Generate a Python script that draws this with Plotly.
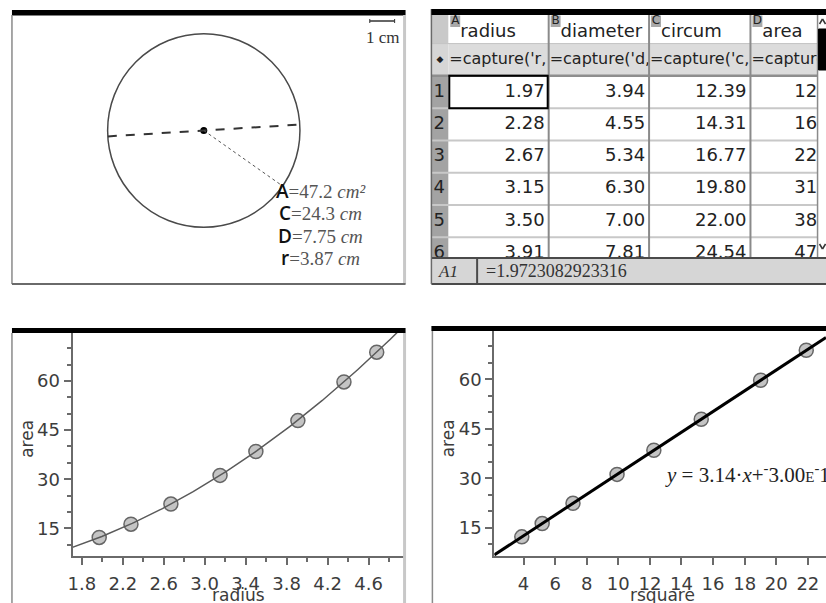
import numpy as np
import plotly.graph_objects as go

# ---------------- data ----------------
radius = [1.97, 2.28, 2.67, 3.15, 3.50, 3.91, 4.36, 4.68]
area = [12.22, 16.26, 22.40, 31.17, 38.48, 47.90, 59.72, 68.81]
rsquare = [3.89, 5.18, 7.13, 9.92, 12.25, 15.25, 19.01, 21.90]
diameter = [3.94, 4.55, 5.34, 6.30, 7.00, 7.81]
circum = [12.39, 14.31, 16.77, 19.80, 22.00, 24.54]
table_rows = [1, 2, 3, 4, 5, 6]
col_letters = ["A", "B", "C", "D"]
col_names = ["radius", "diameter", "circum", "area"]
col_formulas = ["=capture('r,", "=capture('d,", "=capture('c,", "=capture('a,"]
cell_ref = "A1"
cell_value = "=1.9723082923316"
meas_labels = ["A", "C", "D", "r"]
meas_values = ["47.2", "24.3", "7.75", "3.87"]
meas_units = ["cm²", "cm", "cm", "cm"]
circle_r_cm = 3.87
curve_k = 3.14159
fit_slope = 3.14
fit_intercept = -3.00e-14
eq_text = ("<i>y</i> = 3.14·<i>x</i>+<sup>-</sup>3.00"
           "<span style='font-size:15px'>E</span><sup>-</sup>14")

# ---------------- layout helpers ----------------
W, H = 826, 603


def fx(p):
    return p / W


def fy(p):
    return 1 - p / H


def rect_px(x0, y0, x1, y1, **kw):
    return dict(type="rect", xref="paper", yref="paper",
                x0=fx(x0), x1=fx(x1), y0=fy(y1), y1=fy(y0), **kw)


def line_px(x0, y0, x1, y1, color, width, layer="above", dash="solid"):
    return dict(type="line", xref="paper", yref="paper", x0=fx(x0), x1=fx(x1),
                y0=fy(y0), y1=fy(y1), layer=layer,
                line=dict(color=color, width=width, dash=dash))


fig = go.Figure()
shapes = []
annotations = []

AX_COL = "#6a6a6a"
TICKFONT = dict(family="DejaVu Sans", size=18, color="#3c3c3c")
MARK = dict(size=14, color="#c4c4c4", line=dict(color="#666666", width=1.5))

# ---------------- bottom-left: area vs radius ----------------
fig.add_trace(go.Scatter(x=radius, y=area, mode="markers", marker=MARK,
                         xaxis="x", yaxis="y", hoverinfo="skip"))
xr = np.linspace(1.70, 4.97, 200)
fig.add_trace(go.Scatter(x=xr, y=curve_k * xr ** 2, mode="lines",
                         line=dict(color="#5a5a5a", width=1.5),
                         xaxis="x", yaxis="y", hoverinfo="skip"))

# ---------------- bottom-right: area vs rsquare ----------------
fig.add_trace(go.Scatter(x=rsquare, y=area, mode="markers", marker=MARK,
                         xaxis="x2", yaxis="y2", hoverinfo="skip"))
X2_RANGE = [2.15, 23.15]
xl = np.array(X2_RANGE)
fig.add_trace(go.Scatter(x=xl, y=fit_slope * xl + fit_intercept, mode="lines",
                         line=dict(color="#000000", width=3),
                         xaxis="x2", yaxis="y2", hoverinfo="skip"))

# ---------------- top-left: geometry (cm units) ----------------
CX, CY, PPC = 200.0, 130.5, 25.0   # centre pixel, pixels per cm
G_L, G_R, G_T, G_B = 7, 402, 15, 284
fig.add_trace(go.Scatter(x=[0], y=[0], mode="markers",
                         marker=dict(size=7, color="black"),
                         xaxis="x3", yaxis="y3", hoverinfo="skip"))
shapes.append(dict(type="circle", xref="x3", yref="y3",
                   x0=-circle_r_cm, x1=circle_r_cm, y0=-circle_r_cm, y1=circle_r_cm,
                   line=dict(color="#4a4a4a", width=1.5)))
a_d = np.deg2rad(3.5)
shapes.append(dict(type="line", xref="x3", yref="y3",
                   x0=-circle_r_cm * np.cos(a_d), y0=-circle_r_cm * np.sin(a_d),
                   x1=circle_r_cm * np.cos(a_d), y1=circle_r_cm * np.sin(a_d),
                   line=dict(color="#333333", width=2, dash="dash")))
a_r = np.deg2rad(-35)
shapes.append(dict(type="line", xref="x3", yref="y3", x0=0, y0=0,
                   x1=circle_r_cm * np.cos(a_r), y1=circle_r_cm * np.sin(a_r),
                   line=dict(color="#555555", width=1, dash="dot")))
# scale bar: 1 cm
sb_x0 = (367 - CX) / PPC
sb_y = (CY - 21) / PPC
shapes.append(dict(type="line", xref="x3", yref="y3", x0=sb_x0, x1=sb_x0 + 1,
                   y0=sb_y, y1=sb_y, line=dict(color="#333", width=1.5)))
for xe in (sb_x0, sb_x0 + 1):
    shapes.append(dict(type="line", xref="x3", yref="y3", x0=xe, x1=xe,
                       y0=sb_y - 0.08, y1=sb_y + 0.08, line=dict(color="#333", width=1)))
annotations.append(dict(xref="paper", yref="paper", x=fx(380), y=fy(37),
                        text="1 cm", showarrow=False, xanchor="center", yanchor="middle",
                        font=dict(family="Liberation Serif", size=17, color="#333")))
for i, (lab, val, unit) in enumerate(zip(meas_labels, meas_values, meas_units)):
    annotations.append(dict(
        xref="paper", yref="paper", x=fx(317), y=fy(191 + i * 22.3),
        text=(f"<span style='font-family:Open Sans;font-weight:600;color:#111'>{lab}</span>"
              f"={val} <i>{unit}</i>"),
        showarrow=False, xanchor="center", yanchor="middle",
        font=dict(family="Liberation Serif", size=19, color="#555")))

# panel frames (top-left / bottom-left / bottom-right)
shapes += [
    rect_px(7, 10, 403, 15.5, fillcolor="black", line=dict(width=0), layer="above"),
    line_px(7, 15, 7, 284, "#8a8a8a", 1.5),
    line_px(402, 15, 402, 284, "#c8c8c8", 3),
    line_px(7, 284, 403, 284, "#6a6a6a", 2),
    rect_px(7, 328, 403, 333, fillcolor="black", line=dict(width=0), layer="above"),
    line_px(7, 333, 7, 603, "#8a8a8a", 1.5),
    line_px(402, 333, 402, 603, "#c8c8c8", 3),
    rect_px(429, 326, 826, 331, fillcolor="black", line=dict(width=0), layer="above"),
    line_px(430, 331, 430, 603, "#8a8a8a", 1.5),
]

# ---------------- top-right: spreadsheet ----------------
T_L, T_R, T_T, T_B = 429, 818, 15, 258
ROW1_PX, ROW_H = 92.0, 32.3
COL_EDGES = [446, 547, 648, 750, 850]


def ry(p):  # pixel -> row units
    return (p - ROW1_PX) / ROW_H + 1


Y4_RANGE = [ry(T_B), ry(T_T)]

# fills (below)
shapes += [
    dict(type="rect", xref="x4", yref="y4", x0=T_L, x1=COL_EDGES[0], y0=ry(T_T), y1=-0.5,
         fillcolor="#c9c9c9", line=dict(width=0), layer="below"),
    dict(type="rect", xref="x4", yref="y4", x0=T_L, x1=COL_EDGES[0], y0=-0.5, y1=0.5,
         fillcolor="#d6d6d6", line=dict(width=0), layer="below"),
    dict(type="rect", xref="x4", yref="y4", x0=T_L, x1=COL_EDGES[0], y0=0.5, y1=ry(T_B),
         fillcolor="#a3a3a3", line=dict(width=0), layer="below"),
    dict(type="rect", xref="x4", yref="y4", x0=COL_EDGES[0], x1=826, y0=-0.5, y1=0.5,
         fillcolor="#dcdcdc", line=dict(width=0), layer="below"),
]
# column letter boxes
for c in range(4):
    shapes.append(dict(type="rect", xref="x4", yref="y4",
                       x0=COL_EDGES[c] + 2, x1=COL_EDGES[c] + 12,
                       y0=ry(15.5), y1=ry(27), fillcolor="#a8a8a8",
                       line=dict(width=0), layer="below"))
# grid lines
for k in table_rows[:-1]:
    shapes.append(dict(type="line", xref="x4", yref="y4", x0=T_L, x1=T_R,
                       y0=k + 0.5, y1=k + 0.5, line=dict(color="#c8c8c8", width=2)))
shapes.append(dict(type="line", xref="x4", yref="y4", x0=T_L, x1=T_R, y0=-0.5, y1=-0.5,
                   line=dict(color="#c4c4c4", width=1)))
shapes.append(dict(type="line", xref="x4", yref="y4", x0=T_L, x1=T_R, y0=0.5, y1=0.5,
                   line=dict(color="#8e8e8e", width=2.5)))
for e in COL_EDGES[1:4]:
    shapes.append(dict(type="line", xref="x4", yref="y4", x0=e, x1=e,
                       y0=ry(T_T), y1=ry(T_B), line=dict(color="#8a8a8a", width=2)))
# selected cell
shapes.append(dict(type="rect", xref="x4", yref="y4", x0=COL_EDGES[0] + 1, x1=COL_EDGES[1] - 1,
                   y0=0.5, y1=1.5, line=dict(color="black", width=2), layer="above"))
# scrollbar
shapes += [
    rect_px(817, 15, 826, 258, fillcolor="white", line=dict(width=0), layer="above"),
    line_px(817.5, 15, 817.5, 258, "#8a8a8a", 1.5),
    rect_px(818.5, 29, 826, 70, fillcolor="#000000", line=dict(color="#000000", width=1),
            layer="above"),
    line_px(819.5, 24, 822.5, 19, "#333", 1.5),
    line_px(822.5, 19, 825.5, 24, "#333", 1.5),
    line_px(819.5, 244, 822.5, 249, "#333", 1.5),
    line_px(822.5, 249, 825.5, 244, "#333", 1.5),
]
# bottom entry bar
shapes += [
    rect_px(429, 258, 826, 284, fillcolor="#d6d6d6", line=dict(width=0), layer="above"),
    line_px(429, 258, 826, 258, "#4a4a4a", 2),
    line_px(429, 284, 826, 284, "#4a4a4a", 2),
    line_px(475, 258, 475, 284, "#4a4a4a", 2),
    line_px(429, 9, 429, 284, "#6a6a6a", 1.5),
    rect_px(429, 9, 826, 15, fillcolor="black", line=dict(width=0), layer="above"),
]
annotations.append(dict(xref="paper", yref="paper", x=fx(446), y=fy(271),
                        text=f"<i>{cell_ref}</i>", showarrow=False,
                        xanchor="center", yanchor="middle",
                        font=dict(family="Liberation Serif", size=17, color="#333")))
annotations.append(dict(xref="paper", yref="paper", x=fx(482), y=fy(271),
                        text=cell_value, showarrow=False,
                        xanchor="left", yanchor="middle",
                        font=dict(family="Liberation Serif", size=18, color="#333")))

TFONT = dict(family="DejaVu Sans", size=18, color="#222")
# row numbers
fig.add_trace(go.Scatter(x=[T_L + 2] * len(table_rows), y=table_rows, mode="text",
                         text=[str(r) for r in table_rows], textposition="middle right",
                         textfont=TFONT, xaxis="x4", yaxis="y4", hoverinfo="skip"))
fig.add_trace(go.Scatter(x=[(T_L + COL_EDGES[0]) / 2], y=[0], mode="text", text=["◆"],
                         textposition="middle center",
                         textfont=dict(family="DejaVu Sans", size=9, color="#222"),
                         xaxis="x4", yaxis="y4", hoverinfo="skip"))
# header letters and names
fig.add_trace(go.Scatter(x=[e + 7 for e in COL_EDGES[:4]], y=[ry(21)] * 4, mode="text",
                         text=col_letters, textposition="middle center",
                         textfont=dict(family="DejaVu Sans", size=12, color="#222"),
                         xaxis="x4", yaxis="y4", hoverinfo="skip"))
fig.add_trace(go.Scatter(x=[e + 12 for e in COL_EDGES[:4]], y=[ry(32)] * 4, mode="text",
                         text=col_names, textposition="middle right",
                         textfont=dict(family="DejaVu Sans", size=18, color="#222"),
                         xaxis="x4", yaxis="y4", hoverinfo="skip"))
fig.add_trace(go.Scatter(x=[e + 1 for e in COL_EDGES[:4]], y=[0] * 4, mode="text",
                         text=col_formulas, textposition="middle right",
                         textfont=dict(family="DejaVu Sans", size=16, color="#222"),
                         xaxis="x4", yaxis="y4", hoverinfo="skip"))
# data cells
n = len(table_rows)
for c, vals in enumerate([radius[:n], diameter[:n], circum[:n], area[:n]]):
    fig.add_trace(go.Scatter(x=[COL_EDGES[c + 1] - 4] * n, y=table_rows, mode="text",
                             text=[f"{v:.2f}" for v in vals], textposition="middle left",
                             textfont=TFONT, cliponaxis=True,
                             xaxis="x4", yaxis="y4", hoverinfo="skip"))

# equation annotation
annotations.append(dict(xref="paper", yref="paper", x=fx(662), y=fy(473),
                        text=eq_text, showarrow=False, xanchor="left", yanchor="middle",
                        font=dict(family="Liberation Serif", size=21, color="#222")))

# axis titles
TITLEFONT = dict(family="DejaVu Sans", size=17, color="#3c3c3c")
annotations += [
    dict(xref="paper", yref="paper", x=fx(235), y=fy(595), text="radius", showarrow=False,
         xanchor="center", yanchor="middle", font=TITLEFONT),
    dict(xref="paper", yref="paper", x=fx(22), y=fy(439), text="area", showarrow=False,
         textangle=-90, xanchor="center", yanchor="middle", font=TITLEFONT),
    dict(xref="paper", yref="paper", x=fx(662), y=fy(595), text="rsquare", showarrow=False,
         xanchor="center", yanchor="middle", font=TITLEFONT),
    dict(xref="paper", yref="paper", x=fx(446), y=fy(438), text="area", showarrow=False,
         textangle=-90, xanchor="center", yanchor="middle", font=TITLEFONT),
]

axis_common = dict(showline=True, linecolor=AX_COL, linewidth=2, ticks="outside",
                   ticklen=7, tickwidth=2, tickcolor=AX_COL, showgrid=False,
                   zeroline=False, tickfont=TICKFONT, fixedrange=True)
hidden = dict(visible=False, showgrid=False, zeroline=False, fixedrange=True)

fig.update_layout(
    width=W, height=H, margin=dict(l=0, r=0, t=0, b=0),
    paper_bgcolor="white", plot_bgcolor="rgba(0,0,0,0)", showlegend=False,
    xaxis=dict(domain=[fx(68), fx(402)], range=[1.71, 4.952], anchor="y",
               tick0=1.8, dtick=0.4, tickformat=".1f", ticklabelstandoff=3,
               minor=dict(tick0=1.8, dtick=0.2, ticks="outside", ticklen=4,
                          tickwidth=2, tickcolor=AX_COL), **axis_common),
    yaxis=dict(domain=[fy(556), fy(333)], range=[6.54, 74.67], anchor="x",
               tick0=0, dtick=15,
               minor=dict(tick0=0, dtick=5, ticks="outside", ticklen=4,
                          tickwidth=2, tickcolor=AX_COL), **axis_common),
    xaxis2=dict(domain=[fx(492.3), 1.0], range=X2_RANGE, anchor="y2",
                tick0=0, dtick=2, ticklabelstandoff=3, **axis_common),
    yaxis2=dict(domain=[fy(556), fy(330.7)], range=[6.42, 74.74], anchor="x2",
                tick0=0, dtick=15,
                minor=dict(tick0=0, dtick=5, ticks="outside", ticklen=4,
                           tickwidth=2, tickcolor=AX_COL), **axis_common),
    xaxis3=dict(domain=[fx(G_L), fx(G_R)], range=[(G_L - CX) / PPC, (G_R - CX) / PPC],
                anchor="y3", **hidden),
    yaxis3=dict(domain=[fy(G_B), fy(G_T)], range=[(CY - G_B) / PPC, (CY - G_T) / PPC],
                anchor="x3", **hidden),
    xaxis4=dict(domain=[fx(T_L), fx(T_R)], range=[T_L, T_R], anchor="y4", **hidden),
    yaxis4=dict(domain=[fy(T_B), fy(T_T)], range=Y4_RANGE, anchor="x4", **hidden),
    shapes=shapes,
    annotations=annotations,
)

fig.write_html("out.html", config={"displayModeBar": False, "staticPlot": True},
               post_script="document.body.style.margin='0px';document.body.style.overflow='hidden';")
